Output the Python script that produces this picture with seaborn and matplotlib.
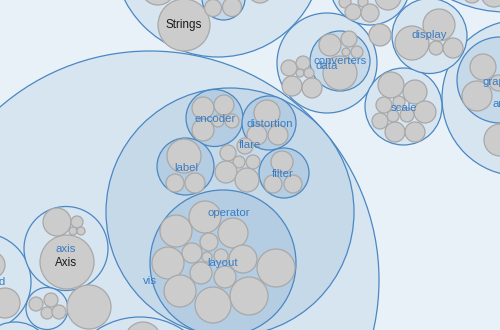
import matplotlib
matplotlib.use("Agg")
import matplotlib.pyplot as plt
from matplotlib.patches import Circle
import seaborn as sns

# ---- data: folders (blue circles) ----
group_names = ["top", "top_sub", "top_mid", "top_right", "data", "converters", "display",
               "scale", "right", "graph", "outer", "vis", "encoder", "distortion", "label",
               "filter", "operator", "axis", "controls", "legend", "bottom_left", "bottom"]
group_x = [218, 223.5, 370, 506, 327, 340, 429.5, 403.5, 520, 500, 150, 230, 214.5, 269,
           185.5, 284, 223, 66, 47, -18, 15, 140]
group_y = [-48, -1.5, -15, -114, 63, 61, 36, 106.5, 98, 80, 280, 212, 118, 123, 166.5,
           173, 263, 248.5, 308.5, 282, 360, 395]
group_r = [105, 21.5, 40, 126, 50, 30, 37.5, 38.5, 78, 43, 229, 124, 28.5, 27, 28.5, 25,
           73, 42, 21, 49, 38, 78]
group_depth = [1, 2, 1, 1, 1, 2, 1, 1, 1, 2, 1, 2, 3, 3, 3, 3, 3, 1, 1, 1, 1, 1]

# ---- data: files (gray circles) ----
leaf_x = [184, 158, 260, 213, 232,
          345, 353, 363, 370, 388,
          472, 494, 380,
          289, 303, 300, 309, 292, 312,
          330, 349, 346, 357, 340,
          439, 412, 436, 453,
          391, 415, 384, 399, 425, 393, 407, 380, 395, 415,
          483, 477, 498, 500,
          203, 224, 203, 218, 232,
          267, 257, 278,
          184, 175, 195,
          282, 273, 293,
          228, 245, 239, 253, 226, 247,
          176, 205, 233, 209, 192, 168, 207, 221, 243, 276, 201, 225, 180, 213, 249,
          67, 57, 77, 73, 81,
          36, 51, 47, 59,
          89, -8, 5, 143]
leaf_y = [25, -12, -9, 8, 7,
          2, 12, 2, 13, -3,
          -6, -6, 35,
          68, 63, 73, 73, 86, 88,
          45, 39, 52, 52, 73,
          25, 43, 48, 48,
          85, 92, 105, 102, 112, 116, 115, 121, 132, 132,
          67, 96, 83, 140,
          108, 105, 130, 121, 121,
          113, 135, 135,
          156, 183, 183,
          162, 184, 184,
          153, 146, 162, 162, 172, 180,
          231, 217, 233, 242, 253, 263, 257, 256, 259, 268, 273, 277, 291, 305, 296,
          262, 222, 222, 231, 231,
          304, 300, 313, 312,
          307, 265, 303, 340]
leaf_r = [26, 17, 12, 8.5, 9.5,
          6, 8, 5, 9, 13,
          9, 13, 11,
          8, 7, 4, 5, 10, 10,
          11, 8, 4, 6, 17,
          16, 17, 7, 10,
          13, 12, 8, 6, 11, 6, 7, 8, 10, 10,
          13, 15, 8, 16,
          11, 10, 11, 6, 7,
          13, 10, 10,
          17, 9, 10,
          11, 9, 9,
          8, 8, 6, 7, 11, 12,
          16, 16, 15, 9, 10, 16, 5, 7, 14, 19, 11, 11, 16, 18, 19,
          27, 14, 6, 4, 4,
          7, 7, 6, 7,
          22, 13, 15, 18]

# ---- data: text labels ----
folder_labels = ["vis", "operator", "layout", "encoder", "distortion", "flare", "label",
                 "filter", "axis", "converters", "data", "display", "scale", "graph",
                 "analysis", "legend"]
folder_label_x = [150, 229, 223, 215, 270, 250, 186, 283, 66, 340, 327, 429, 404, 497,
                  513, -12]
folder_label_y = [281, 213, 263, 119, 124, 145, 168, 174, 249, 61, 66, 35, 108, 82,
                  104, 282]
file_labels = ["Strings", "Axis"]
file_label_x = [184, 66]
file_label_y = [25, 263]

# ---- style ----
sns.set_theme(style="white")
bg = "#e9f1f8"
depth_colors = sns.blend_palette([bg, "#b4cde2"], 4)
edge_blue = "#4a87c3"
label_blue = "#3a7cc4"
plt.rcParams["font.family"] = ["Liberation Sans", "DejaVu Sans"]

fig = plt.figure(figsize=(5, 3.3), dpi=100, facecolor=bg)
ax = fig.add_axes([0, 0, 1, 1])
ax.set_facecolor(bg)
ax.set_xlim(0, 500)
ax.set_ylim(330, 0)
ax.axis("off")

order = sorted(range(len(group_r)), key=lambda i: -group_r[i])
for z, i in enumerate(order):
    ax.add_patch(Circle((group_x[i], group_y[i]), group_r[i],
                        facecolor=depth_colors[group_depth[i]], edgecolor=edge_blue,
                        linewidth=0.9, zorder=1 + z * 0.01))

for x, y, r in zip(leaf_x, leaf_y, leaf_r):
    ax.add_patch(Circle((x, y), r, facecolor="#cccccc", edgecolor="#a8a8a8",
                        linewidth=0.9, zorder=3))

for t, x, y in zip(folder_labels, folder_label_x, folder_label_y):
    ax.text(x, y, t, color=label_blue, fontsize=8.2, ha="center", va="center",
            zorder=4, clip_on=True)
for t, x, y in zip(file_labels, file_label_x, file_label_y):
    ax.text(x, y, t, color="#1a1a1a", fontsize=8.4, ha="center", va="center",
            zorder=4, clip_on=True)

fig.savefig("out.png", dpi=100, facecolor=bg)
